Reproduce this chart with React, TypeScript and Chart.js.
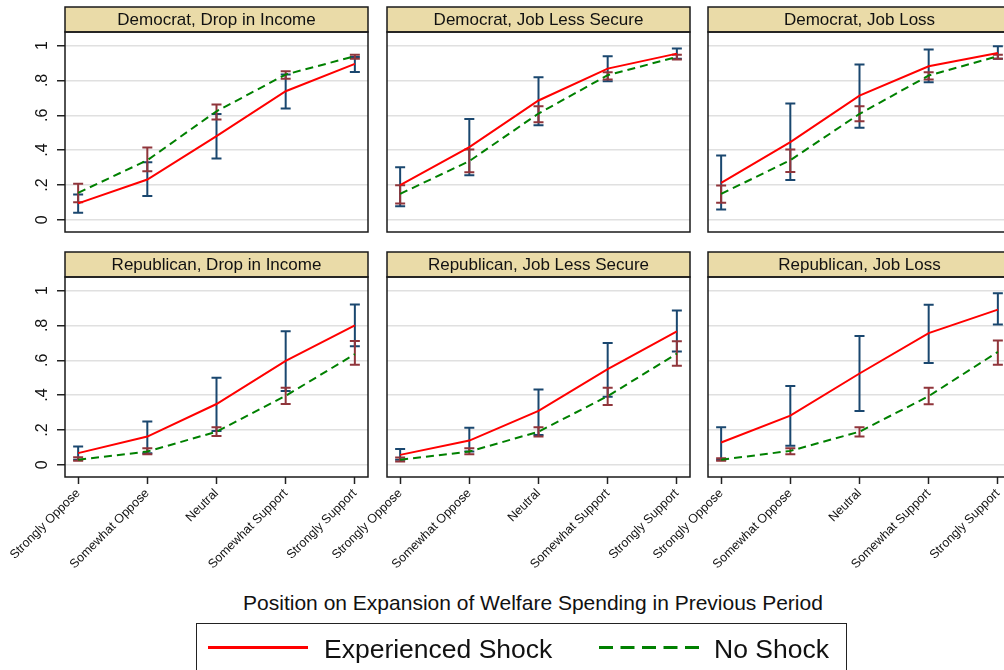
import React, { useEffect, useRef } from "react";
import { Chart, registerables } from "chart.js";

Chart.register(...registerables);

const FONT = '"Liberation Sans", Arial, Helvetica, sans-serif';

const categories = ["Strongly Oppose", "Somewhat Oppose", "Neutral", "Somewhat Support", "Strongly Support"];
const yTickValues = [0, 0.2, 0.4, 0.6, 0.8, 1];
const yTickLabels = ["0", ".2", ".4", ".6", ".8", "1"];
const panelTitles = [
  "Democrat, Drop in Income",
  "Democrat, Job Less Secure",
  "Democrat, Job Loss",
  "Republican, Drop in Income",
  "Republican, Job Less Secure",
  "Republican, Job Loss",
];
const legendLabels = ["Experienced Shock", "No Shock"];
const xAxisTitle = "Position on Expansion of Welfare Spending in Previous Period";

// Democrat, Drop in Income
const demIncomeShock = [0.094, 0.231, 0.48, 0.738, 0.895];
const demIncomeShockLo = [0.04, 0.136, 0.352, 0.639, 0.849];
const demIncomeShockHi = [0.145, 0.331, 0.608, 0.834, 0.935];
const demIncomeNo = [0.155, 0.342, 0.623, 0.834, 0.939];
const demIncomeNoLo = [0.101, 0.279, 0.576, 0.809, 0.924];
const demIncomeNoHi = [0.207, 0.415, 0.662, 0.853, 0.948];

// Democrat, Job Less Secure
const demSecureShock = [0.199, 0.417, 0.685, 0.868, 0.954];
const demSecureShockLo = [0.078, 0.256, 0.543, 0.795, 0.925];
const demSecureShockHi = [0.302, 0.579, 0.818, 0.939, 0.983];
const demSecureNo = [0.149, 0.337, 0.61, 0.83, 0.935];
const demSecureNoLo = [0.094, 0.273, 0.56, 0.805, 0.92];
const demSecureNoHi = [0.199, 0.403, 0.652, 0.847, 0.948];

// Democrat, Job Loss
const demLossShock = [0.212, 0.446, 0.713, 0.881, 0.958];
const demLossShockLo = [0.059, 0.228, 0.528, 0.79, 0.924];
const demLossShockHi = [0.369, 0.667, 0.891, 0.977, 0.996];
const demLossNo = [0.149, 0.342, 0.608, 0.828, 0.939];
const demLossNoLo = [0.098, 0.275, 0.566, 0.805, 0.924];
const demLossNoHi = [0.197, 0.403, 0.652, 0.847, 0.948];

// Republican, Drop in Income
const repIncomeShock = [0.067, 0.162, 0.349, 0.596, 0.8];
const repIncomeShockLo = [0.029, 0.067, 0.194, 0.423, 0.68];
const repIncomeShockHi = [0.105, 0.248, 0.499, 0.766, 0.92];
const repIncomeNo = [0.029, 0.076, 0.19, 0.396, 0.635];
const repIncomeNoLo = [0.023, 0.061, 0.166, 0.349, 0.575];
const repIncomeNoHi = [0.044, 0.095, 0.215, 0.442, 0.71];

// Republican, Job Less Secure
const repSecureShock = [0.057, 0.139, 0.309, 0.549, 0.766];
const repSecureShockLo = [0.029, 0.076, 0.171, 0.39, 0.651];
const repSecureShockHi = [0.091, 0.213, 0.432, 0.699, 0.886];
const repSecureNo = [0.029, 0.076, 0.19, 0.394, 0.638];
const repSecureNoLo = [0.019, 0.061, 0.162, 0.343, 0.568];
const repSecureNoHi = [0.042, 0.095, 0.215, 0.442, 0.709];

// Republican, Job Loss
const repLossShock = [0.128, 0.282, 0.524, 0.756, 0.891];
const repLossShockLo = [0.029, 0.109, 0.309, 0.585, 0.806];
const repLossShockHi = [0.215, 0.453, 0.739, 0.918, 0.985];
const repLossNo = [0.029, 0.08, 0.19, 0.394, 0.648];
const repLossNoLo = [0.023, 0.061, 0.162, 0.347, 0.575];
const repLossNoHi = [0.038, 0.095, 0.215, 0.442, 0.714];

const panelData = [
  [demIncomeShock, demIncomeShockLo, demIncomeShockHi, demIncomeNo, demIncomeNoLo, demIncomeNoHi],
  [demSecureShock, demSecureShockLo, demSecureShockHi, demSecureNo, demSecureNoLo, demSecureNoHi],
  [demLossShock, demLossShockLo, demLossShockHi, demLossNo, demLossNoLo, demLossNoHi],
  [repIncomeShock, repIncomeShockLo, repIncomeShockHi, repIncomeNo, repIncomeNoLo, repIncomeNoHi],
  [repSecureShock, repSecureShockLo, repSecureShockHi, repSecureNo, repSecureNoLo, repSecureNoHi],
  [repLossShock, repLossShockLo, repLossShockHi, repLossNo, repLossNoLo, repLossNoHi],
];

const RED = "#ff0000";
const GREEN = "#008000";
const NAVY = "#1a476f";
const MAROON = "#90353b";
const HEADER = "#eadba8";
const BOXC = "#1a1a1a";

const COL_LEFT = [65, 387, 708];
const ROW_TOP = [32, 277];
const PLOT_W = 303;
const PLOT_H = 200;
const LEFT_M = 65;
const TOP_M = 32;
const RIGHT_M = 6;

function Panel({ index }: { index: number }) {
  const ref = useRef<HTMLCanvasElement | null>(null);
  const col = index % 3;
  const row = Math.floor(index / 3);
  const showY = col === 0;
  const showX = row === 1;
  const xAxisH = showX ? 110 : 0;
  const bottomPad = showX ? 0 : 4;
  const cw = LEFT_M + PLOT_W + RIGHT_M;
  const ch = TOP_M + PLOT_H + xAxisH + bottomPad;
  const left = COL_LEFT[col] - LEFT_M;
  const top = ROW_TOP[row] - TOP_M;

  useEffect(() => {
    if (!ref.current) return;
    const [shock, shockLo, shockHi, no, noLo, noHi] = panelData[index];
    const title = panelTitles[index];

    const decor = {
      id: "panelDecor",
      beforeDatasetsDraw(chart: any) {
        const { ctx, chartArea, scales } = chart;
        const x = scales.x;
        const y = scales.y;
        ctx.save();
        ctx.beginPath();
        ctx.rect(chartArea.left, chartArea.top, chartArea.right - chartArea.left, chartArea.bottom - chartArea.top);
        ctx.clip();
        const bars = (lo: number[], hi: number[], color: string) => {
          ctx.strokeStyle = color;
          ctx.lineWidth = 2;
          lo.forEach((l, i) => {
            const px = x.getPixelForValue(i);
            const p1 = y.getPixelForValue(l);
            const p2 = y.getPixelForValue(hi[i]);
            ctx.beginPath();
            ctx.moveTo(px, p1);
            ctx.lineTo(px, p2);
            ctx.moveTo(px - 5, p1);
            ctx.lineTo(px + 5, p1);
            ctx.moveTo(px - 5, p2);
            ctx.lineTo(px + 5, p2);
            ctx.stroke();
          });
        };
        bars(shockLo, shockHi, NAVY);
        bars(noLo, noHi, MAROON);
        ctx.restore();
      },
      afterDraw(chart: any) {
        const { ctx, chartArea } = chart;
        const l = chartArea.left;
        const r = chartArea.right;
        const t = chartArea.top;
        const b = chartArea.bottom;
        ctx.save();
        ctx.fillStyle = HEADER;
        ctx.fillRect(l, t - 25, r - l, 25);
        ctx.strokeStyle = BOXC;
        ctx.lineWidth = 1.5;
        ctx.strokeRect(l, t - 25, r - l, 25);
        ctx.strokeRect(l, t, r - l, b - t);
        ctx.fillStyle = "#111";
        ctx.font = `17px ${FONT}`;
        ctx.textAlign = "center";
        ctx.textBaseline = "middle";
        ctx.fillText(title, (l + r) / 2, t - 11.5);
        ctx.restore();
      },
    };

    const chart = new Chart(ref.current, {
      type: "line",
      data: {
        datasets: [
          {
            label: legendLabels[0],
            data: shock.map((v, i) => ({ x: i, y: v })),
            borderColor: RED,
            borderWidth: 2,
            pointRadius: 0,
            tension: 0,
            fill: false,
          },
          {
            label: legendLabels[1],
            data: no.map((v, i) => ({ x: i, y: v })),
            borderColor: GREEN,
            borderWidth: 2,
            borderDash: [8, 5],
            pointRadius: 0,
            tension: 0,
            fill: false,
          },
        ],
      },
      options: {
        animation: false,
        responsive: false,
        maintainAspectRatio: false,
        events: [],
        layout: { padding: { left: 0, top: TOP_M, right: RIGHT_M, bottom: bottomPad } },
        plugins: {
          legend: { display: false },
          tooltip: { enabled: false },
          title: { display: false },
        },
        scales: {
          x: {
            type: "linear",
            min: -0.19,
            max: 4.19,
            afterBuildTicks: (s: any) => {
              s.ticks = categories.map((_, i) => ({ value: i }));
            },
            ticks: {
              display: showX,
              autoSkip: false,
              minRotation: 45,
              maxRotation: 45,
              padding: 2,
              color: "#111",
              font: { family: FONT, size: 12.5 },
              callback: (_v: any, i: number) => categories[i],
            },
            grid: {
              display: showX,
              drawOnChartArea: false,
              drawTicks: true,
              tickLength: 7,
              tickColor: "#222",
              tickWidth: 1.5,
            },
            border: { display: false },
            afterFit: (s: any) => {
              s.height = xAxisH;
              s.paddingLeft = 0;
              s.paddingRight = 0;
            },
          },
          y: {
            type: "linear",
            min: -0.07,
            max: 1.078,
            afterBuildTicks: (s: any) => {
              s.ticks = yTickValues.map((v) => ({ value: v }));
            },
            ticks: {
              display: showY,
              minRotation: 90,
              maxRotation: 90,
              crossAlign: "center",
              padding: 8,
              color: "#111",
              font: { family: FONT, size: 16 },
              callback: (_v: any, i: number) => yTickLabels[i],
            },
            grid: {
              color: "#e0e0e0",
              lineWidth: 1.5,
              drawTicks: showY,
              tickLength: 8,
              tickColor: "#222",
              tickWidth: 1.5,
            },
            border: { display: false },
            afterFit: (s: any) => {
              s.width = LEFT_M;
              s.paddingTop = 0;
              s.paddingBottom = 0;
            },
          },
        },
      } as any,
      plugins: [decor],
    });
    return () => chart.destroy();
  }, [index]);

  return (
    <canvas
      ref={ref}
      width={cw}
      height={ch}
      style={{ position: "absolute", left, top, width: cw, height: ch }}
    />
  );
}

export default function App() {
  return (
    <div
      style={{
        position: "absolute",
        left: 0,
        top: 0,
        width: 1004,
        height: 670,
        overflow: "hidden",
        background: "#ffffff",
        fontFamily: FONT,
        color: "#111",
      }}
    >
      {panelTitles.map((_, i) => (
        <Panel key={i} index={i} />
      ))}
      <div
        style={{
          position: "absolute",
          left: 183,
          top: 590,
          width: 700,
          textAlign: "center",
          fontSize: 21,
          lineHeight: "26px",
          whiteSpace: "nowrap",
        }}
      >
        {xAxisTitle}
      </div>
      <div
        style={{
          position: "absolute",
          left: 196,
          top: 623,
          width: 651,
          height: 80,
          border: "1.5px solid #222",
          boxSizing: "border-box",
        }}
      />
      <svg style={{ position: "absolute", left: 0, top: 0 }} width={1004} height={670}>
        <line x1={208} y1={647.5} x2={308} y2={647.5} stroke={RED} strokeWidth={3} />
        <line x1={599} y1={647.5} x2={699} y2={647.5} stroke={GREEN} strokeWidth={3} strokeDasharray="14 7.5" />
      </svg>
      <div style={{ position: "absolute", left: 324, top: 633, fontSize: 26.5, lineHeight: "32px", whiteSpace: "nowrap" }}>
        {legendLabels[0]}
      </div>
      <div style={{ position: "absolute", left: 714, top: 633, fontSize: 26.5, lineHeight: "32px", whiteSpace: "nowrap" }}>
        {legendLabels[1]}
      </div>
    </div>
  );
}
